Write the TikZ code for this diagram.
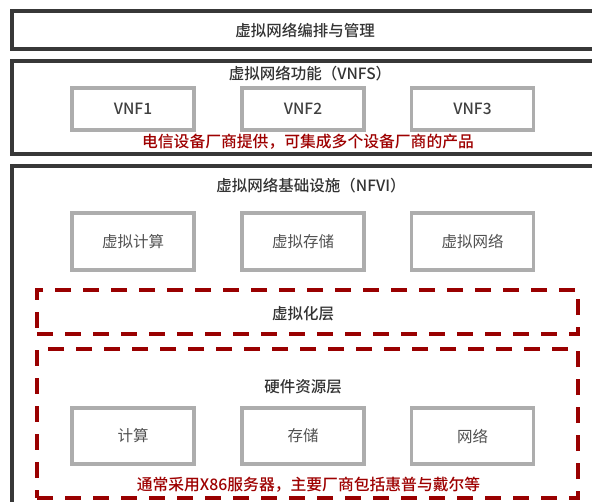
\documentclass[tikz,border=0pt]{standalone}
\usepackage{fontspec}
\setmainfont{Noto Sans CJK SC}[BoldFont={Noto Sans CJK SC Medium}]
\begin{document}
\begin{tikzpicture}[x=1pt,y=-1pt,
  outerbox/.style={draw=black!78, line width=4pt, rectangle, inner sep=0pt, fill=white},
  innerbox/.style={draw=black!32, line width=3.5pt, rectangle, inner sep=0pt, fill=white,
    minimum width=122pt, text=black!68, font=\fontsize{15.5}{18}\selectfont},
  layerbox/.style={draw=red!60!black, line width=4pt, dash pattern=on 16pt off 12pt, rectangle, inner sep=0pt,
    minimum width=541pt},
  titletext/.style={font=\fontsize{15.5}{18}\selectfont\bfseries, text=black!80, inner sep=0pt},
  notetext/.style={font=\fontsize{15.8}{18}\selectfont\bfseries, text=red!62!black, inner sep=0pt}
]
\useasboundingbox (0,0) rectangle (592,501);
\clip (0,0) rectangle (592,501);
\fill[white] (0,0) rectangle (592,501);

% orchestration
\node[outerbox, minimum width=586pt, minimum height=38pt] (orch) at (305,30) {};
\node[titletext] (orcht) at (305,31) {虚拟网络编排与管理};

% VNFS
\node[outerbox, minimum width=586pt, minimum height=93pt] (vnfs) at (305,107.5) {};
\node[titletext] (vnfst) at (310,74) {虚拟网络功能（VNFS）};
\node[innerbox, minimum height=42pt, text=black!75, font=\fontsize{15.5}{18}\selectfont\bfseries] (vnf1) at (133,109) {VNF1};
\node[innerbox, minimum height=42pt, text=black!75, font=\fontsize{15.5}{18}\selectfont\bfseries] (vnf2) at (303,109) {VNF2};
\node[innerbox, minimum height=42pt, text=black!75, font=\fontsize{15.5}{18}\selectfont\bfseries] (vnf3) at (472.5,109) {VNF3};
\node[notetext] (vnfnote) at (308,142) {电信设备厂商提供，可集成多个设备厂商的产品};

% NFVI
\node[outerbox, minimum width=586pt, minimum height=354pt] (nfvi) at (305,343) {};
\node[titletext] (nfvit) at (311,186) {虚拟网络基础设施（NFVI）};
\node[innerbox, minimum height=57pt] (vc) at (133,241.5) {虚拟计算};
\node[innerbox, minimum height=57pt] (vs) at (303,241.5) {虚拟存储};
\node[innerbox, minimum height=57pt] (vn) at (472.5,241.5) {虚拟网络};

% virtualization layer
\node[layerbox, minimum height=44pt] (virt) at (307.5,312) {};
\node[titletext] (virtt) at (303,313.5) {虚拟化层};

% hardware layer
\node[layerbox, minimum height=149pt] (hw) at (307.5,423.5) {};
\node[titletext] (hwt) at (303,387) {硬件资源层};
\node[innerbox, minimum height=56pt] (hc) at (133,436) {计算};
\node[innerbox, minimum height=56pt] (hs) at (303,436) {存储};
\node[innerbox, minimum height=56pt] (hn) at (472.5,436) {网络};
\node[notetext] (hwnote) at (308.5,485) {通常采用X86服务器，主要厂商包括惠普与戴尔等};
\end{tikzpicture}
\end{document}
